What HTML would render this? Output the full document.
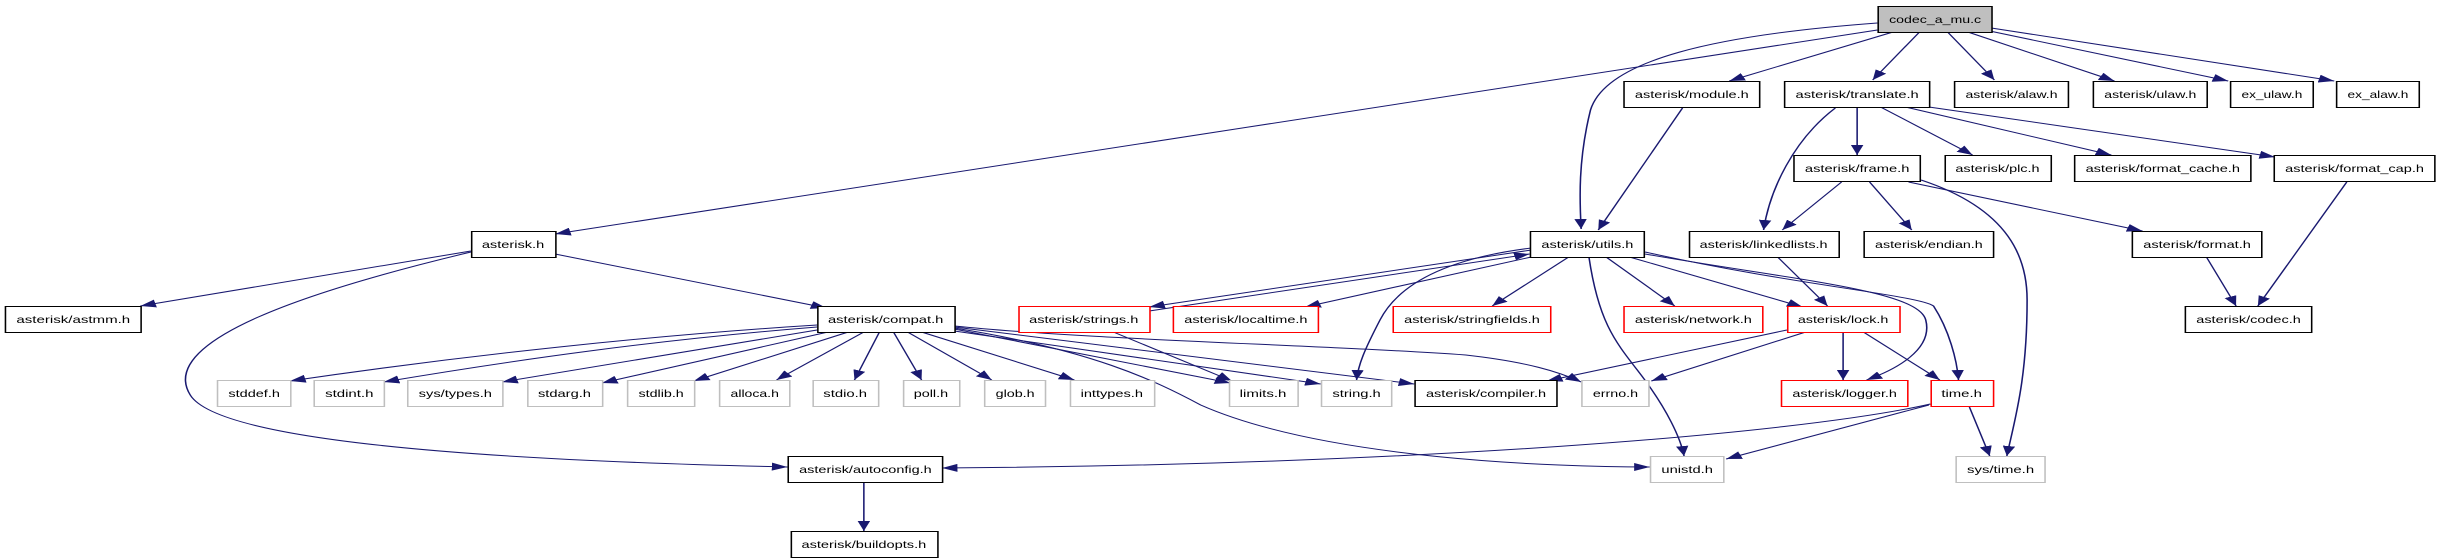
<!DOCTYPE html>
<html><head><meta charset="utf-8"><style>
html,body{margin:0;padding:0;background:#fff;}
svg{display:block;}
text{font-family:"Liberation Sans",sans-serif;font-size:10px;fill:#000;}
</style></head><body>
<svg width="2445" height="560" viewBox="0 0 1568 560" preserveAspectRatio="none" xmlns="http://www.w3.org/2000/svg">
<defs><marker id="a" markerUnits="userSpaceOnUse" markerWidth="10" markerHeight="8" refX="10" refY="4" orient="auto"><path d="M0,0 L10,4 L0,8 z" fill="#191970"/></marker></defs>
<g fill="none" stroke="#191970" stroke-width="1" marker-end="url(#a)">
<path d="M1204,30 L356,234"/>
<path d="M1204,23 C1100,35 1030,60 1020,110 C1012,160 1013,200 1014,229"/>
<path d="M1214,32 L1109,81"/>
<path d="M1231,32 L1201,80"/>
<path d="M1249,32 L1279,80"/>
<path d="M1262,32 L1356,81"/>
<path d="M1276,31 L1429,81"/>
<path d="M1277,28 L1497,81"/>
<path d="M1079,108 L1025,230"/>
<path d="M1177,108 C1150,140 1135,190 1131,230"/>
<path d="M1191,107 L1191,155"/>
<path d="M1206,107 L1265,155"/>
<path d="M1222,107 L1354,155"/>
<path d="M1237,107 L1459,157"/>
<path d="M1181,182 L1143,230"/>
<path d="M1199,182 L1226,230"/>
<path d="M1224,182 L1374,231"/>
<path d="M1232,180 C1290,210 1300,260 1300,300 C1300,380 1292,420 1287,456"/>
<path d="M1505,182 L1448,306"/>
<path d="M1415,257 L1434,306"/>
<path d="M1140,257 L1172,306"/>
<path d="M982,250 L737,307"/>
<path d="M737,311 L981,254"/>
<path d="M982,257 L837,307"/>
<path d="M1006,257 L957,306"/>
<path d="M1030,257 L1074,306"/>
<path d="M1045,257 L1156,307"/>
<path d="M1019,257 C1025,320 1035,340 1050,370 C1070,410 1078,440 1080,456"/>
<path d="M982,248 C920,260 895,290 885,320 C875,350 871,365 870,380"/>
<path d="M1055,254 C1150,280 1230,290 1235,320 C1240,350 1215,370 1197,380"/>
<path d="M1055,252 C1150,285 1230,295 1240,306 C1250,330 1255,360 1256,380"/>
<path d="M714,332 L790,381"/>
<path d="M1182,332 L1182,380"/>
<path d="M1195,332 L1244,380"/>
<path d="M1158,332 L1059,381"/>
<path d="M1146,330 L992,381"/>
<path d="M1237,405 L1107,459"/>
<path d="M1263,407 L1276,456"/>
<path d="M1238,404 C1150,435 900,465 604,468"/>
<path d="M302,251 L90,306"/>
<path d="M356,254 L530,308"/>
<path d="M302,252 C200,290 100,340 122,395 C140,440 300,460 505,467"/>
<path d="M554,482 L554,531"/>
<path d="M524,325 C420,335 300,355 186,381"/>
<path d="M524,327 C420,340 330,360 246,382"/>
<path d="M524,330 L322,382"/>
<path d="M531,332 L386,383"/>
<path d="M544,332 L445,381"/>
<path d="M554,332 L498,380"/>
<path d="M564,332 L548,380"/>
<path d="M573,332 L591,380"/>
<path d="M582,332 L636,380"/>
<path d="M591,332 L689,380"/>
<path d="M612,329 L789,383"/>
<path d="M612,331 L847,384"/>
<path d="M612,327 L907,384"/>
<path d="M612,326 C700,340 850,345 940,355 C980,362 1000,372 1014,382"/>
<path d="M612,328 C700,350 740,380 770,405 C850,460 1000,467 1058,467"/>
</g>
<g stroke-width="1">
<rect x="1204.5" y="6.5" width="73" height="26" fill="#bfbfbf" stroke="#000"/>
<g fill="#fff" stroke="#000">
<rect x="1041.5" y="81.5" width="87" height="26"/><rect x="1144.5" y="81.5" width="93" height="26"/>
<rect x="1253.5" y="81.5" width="73" height="26"/><rect x="1342.5" y="81.5" width="73" height="26"/>
<rect x="1430.5" y="81.5" width="53" height="26"/><rect x="1498.5" y="81.5" width="53" height="26"/>
<rect x="1150.5" y="155.5" width="81" height="26"/><rect x="1247.5" y="155.5" width="68" height="26"/>
<rect x="1330.5" y="155.5" width="113" height="26"/><rect x="1458.5" y="155.5" width="103" height="26"/>
<rect x="302.5" y="231.5" width="54" height="26"/><rect x="981.5" y="231.5" width="73" height="26"/>
<rect x="1083.5" y="231.5" width="96" height="26"/><rect x="1195.5" y="231.5" width="83" height="26"/>
<rect x="1367.5" y="231.5" width="83" height="26"/><rect x="3.5" y="306.5" width="87" height="26"/>
<rect x="524.5" y="306.5" width="88" height="26"/><rect x="1401.5" y="306.5" width="81" height="26"/>
<rect x="907.5" y="380.5" width="91" height="26"/><rect x="505.5" y="456.5" width="99" height="26"/>
<rect x="507.5" y="531.5" width="94" height="26"/>
</g>
<g fill="#fff" stroke="#ff0000">
<rect x="653.5" y="306.5" width="84" height="26"/><rect x="752.5" y="306.5" width="93" height="26"/>
<rect x="893.5" y="306.5" width="101" height="26"/><rect x="1041.5" y="306.5" width="89" height="26"/>
<rect x="1146.5" y="306.5" width="72" height="26"/><rect x="1142.5" y="380.5" width="81" height="26"/>
<rect x="1238.5" y="380.5" width="40" height="26"/>
</g>
<g fill="#fff" stroke="#bfbfbf">
<rect x="139.5" y="380.5" width="47" height="26"/><rect x="201.5" y="380.5" width="45" height="26"/>
<rect x="261.5" y="380.5" width="61" height="26"/><rect x="338.5" y="380.5" width="48" height="26"/>
<rect x="402.5" y="380.5" width="43" height="26"/><rect x="461.5" y="380.5" width="45" height="26"/>
<rect x="521.5" y="380.5" width="42" height="26"/><rect x="579.5" y="380.5" width="36" height="26"/>
<rect x="631.5" y="380.5" width="39" height="26"/><rect x="686.5" y="380.5" width="54" height="26"/>
<rect x="788.5" y="380.5" width="44" height="26"/><rect x="847.5" y="380.5" width="45" height="26"/>
<rect x="1014.5" y="380.5" width="43" height="26"/><rect x="1058.5" y="456.5" width="47" height="26"/>
<rect x="1254.5" y="456.5" width="57" height="26"/>
</g>
</g>
<g text-anchor="middle" lengthAdjust="spacingAndGlyphs">
<text x="1241" y="23" textLength="59" lengthAdjust="spacingAndGlyphs">codec_a_mu.c</text>
<text x="1085" y="98" textLength="73" lengthAdjust="spacingAndGlyphs">asterisk/module.h</text>
<text x="1191" y="98" textLength="79" lengthAdjust="spacingAndGlyphs">asterisk/translate.h</text>
<text x="1290" y="98" textLength="59" lengthAdjust="spacingAndGlyphs">asterisk/alaw.h</text>
<text x="1379" y="98" textLength="59" lengthAdjust="spacingAndGlyphs">asterisk/ulaw.h</text>
<text x="1457" y="98" textLength="39" lengthAdjust="spacingAndGlyphs">ex_ulaw.h</text>
<text x="1525" y="98" textLength="39" lengthAdjust="spacingAndGlyphs">ex_alaw.h</text>
<text x="1191" y="172" textLength="67" lengthAdjust="spacingAndGlyphs">asterisk/frame.h</text>
<text x="1281" y="172" textLength="54" lengthAdjust="spacingAndGlyphs">asterisk/plc.h</text>
<text x="1387" y="172" textLength="99" lengthAdjust="spacingAndGlyphs">asterisk/format_cache.h</text>
<text x="1510" y="172" textLength="89" lengthAdjust="spacingAndGlyphs">asterisk/format_cap.h</text>
<text x="329" y="248" textLength="40" lengthAdjust="spacingAndGlyphs">asterisk.h</text>
<text x="1018" y="248" textLength="59" lengthAdjust="spacingAndGlyphs">asterisk/utils.h</text>
<text x="1131" y="248" textLength="82" lengthAdjust="spacingAndGlyphs">asterisk/linkedlists.h</text>
<text x="1237" y="248" textLength="69" lengthAdjust="spacingAndGlyphs">asterisk/endian.h</text>
<text x="1409" y="248" textLength="69" lengthAdjust="spacingAndGlyphs">asterisk/format.h</text>
<text x="47" y="323" textLength="73" lengthAdjust="spacingAndGlyphs">asterisk/astmm.h</text>
<text x="568" y="323" textLength="74" lengthAdjust="spacingAndGlyphs">asterisk/compat.h</text>
<text x="695" y="323" textLength="70" lengthAdjust="spacingAndGlyphs">asterisk/strings.h</text>
<text x="799" y="323" textLength="79" lengthAdjust="spacingAndGlyphs">asterisk/localtime.h</text>
<text x="944" y="323" textLength="87" lengthAdjust="spacingAndGlyphs">asterisk/stringfields.h</text>
<text x="1086" y="323" textLength="75" lengthAdjust="spacingAndGlyphs">asterisk/network.h</text>
<text x="1182" y="323" textLength="58" lengthAdjust="spacingAndGlyphs">asterisk/lock.h</text>
<text x="1442" y="323" textLength="67" lengthAdjust="spacingAndGlyphs">asterisk/codec.h</text>
<text x="163" y="397" textLength="33" lengthAdjust="spacingAndGlyphs">stddef.h</text>
<text x="224" y="397" textLength="31" lengthAdjust="spacingAndGlyphs">stdint.h</text>
<text x="292" y="397" textLength="47" lengthAdjust="spacingAndGlyphs">sys/types.h</text>
<text x="362" y="397" textLength="34" lengthAdjust="spacingAndGlyphs">stdarg.h</text>
<text x="424" y="397" textLength="29" lengthAdjust="spacingAndGlyphs">stdlib.h</text>
<text x="484" y="397" textLength="31" lengthAdjust="spacingAndGlyphs">alloca.h</text>
<text x="542" y="397" textLength="28" lengthAdjust="spacingAndGlyphs">stdio.h</text>
<text x="597" y="397" textLength="22" lengthAdjust="spacingAndGlyphs">poll.h</text>
<text x="651" y="397" textLength="25" lengthAdjust="spacingAndGlyphs">glob.h</text>
<text x="713" y="397" textLength="40" lengthAdjust="spacingAndGlyphs">inttypes.h</text>
<text x="810" y="397" textLength="30" lengthAdjust="spacingAndGlyphs">limits.h</text>
<text x="870" y="397" textLength="31" lengthAdjust="spacingAndGlyphs">string.h</text>
<text x="953" y="397" textLength="77" lengthAdjust="spacingAndGlyphs">asterisk/compiler.h</text>
<text x="1036" y="397" textLength="29" lengthAdjust="spacingAndGlyphs">errno.h</text>
<text x="1183" y="397" textLength="67" lengthAdjust="spacingAndGlyphs">asterisk/logger.h</text>
<text x="1258" y="397" textLength="26" lengthAdjust="spacingAndGlyphs">time.h</text>
<text x="555" y="473" textLength="85" lengthAdjust="spacingAndGlyphs">asterisk/autoconfig.h</text>
<text x="1082" y="473" textLength="33" lengthAdjust="spacingAndGlyphs">unistd.h</text>
<text x="1283" y="473" textLength="43" lengthAdjust="spacingAndGlyphs">sys/time.h</text>
<text x="554" y="548" textLength="80" lengthAdjust="spacingAndGlyphs">asterisk/buildopts.h</text>
</g>
</svg>
</body></html>
